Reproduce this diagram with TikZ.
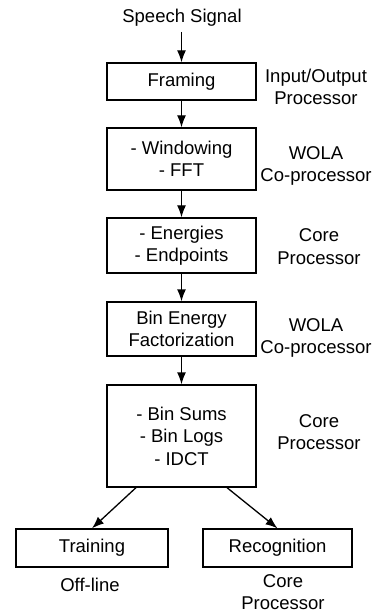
\documentclass[tikz,border=0pt]{standalone}
\usepackage{fontspec}
\setmainfont{Liberation Sans}
\usetikzlibrary{arrows.meta}
\begin{document}
\begin{tikzpicture}[x=1pt,y=-1pt,
  every node/.style={font=\fontsize{18.5}{22.5}\selectfont, align=center, inner sep=0pt},
  blk/.style={draw, line width=1.3pt, minimum width=149pt, fill=white},
  lbl/.style={},
  arr/.style={line width=1.3pt, -{Latex[length=12pt,width=9pt]}}]
\useasboundingbox (0,0) rectangle (373,612);
\node (sig) at (182,18) {Speech Signal};
\node[blk, minimum height=37pt] (frame) at (181.5,81.5) {Framing};
\node[blk, minimum height=62pt] (win) at (181.5,159) {- Windowing\\- FFT};
\node[blk, minimum height=55pt] (en) at (181.5,245.5) {- Energies\\- Endpoints};
\node[blk, minimum height=54pt] (bin) at (181.5,329) {Bin Energy\\Factorization};
\node[blk, minimum height=102pt] (sums) at (181.5,436) {- Bin Sums\\- Bin Logs\\- IDCT};
\node[blk, minimum height=38pt, minimum width=152pt] (train) at (92,548) {Training};
\node[blk, minimum height=38pt] (rec) at (277.5,548) {Recognition};
\node[lbl] (l1) at (316,87) {Input/Output\\Processor};
\node[lbl] (l2) at (316,166) {WOLA\\Co-processor};
\node[lbl] (l3) at (319,246.5) {Core\\Processor};
\node[lbl] (l4) at (316,338) {WOLA\\Co-processor};
\node[lbl] (l5) at (319,432) {Core\\Processor};
\node[lbl] (l6) at (90,585) {Off-line};
\node[lbl] (l7) at (283,592) {Core\\Processor};
\coordinate (s0) at (181.5,32);
\draw[arr] (s0) -- (frame.north);
\draw[arr] (frame) -- (win);
\draw[arr] (win) -- (en);
\draw[arr] (en) -- (bin);
\draw[arr] (bin) -- (sums);
\draw[arr] ([xshift=-45.5pt]sums.south) -- (train.north);
\draw[arr] ([xshift=45.5pt]sums.south) -- (rec.north);
\end{tikzpicture}
\end{document}
